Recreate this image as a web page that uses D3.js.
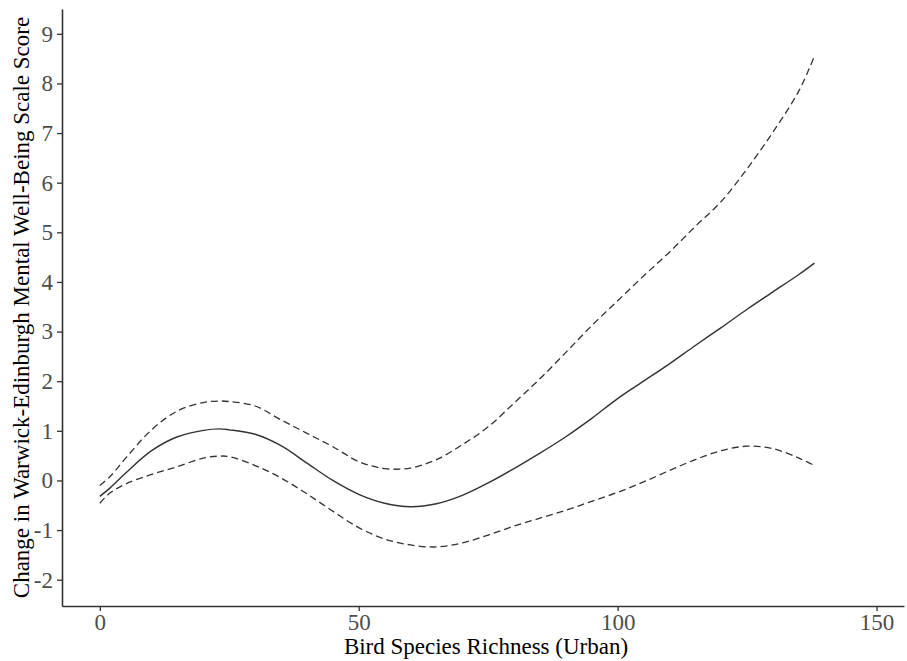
<!DOCTYPE html>
<html>
<head>
<meta charset="utf-8">
<script src="https://cdn.jsdelivr.net/npm/d3@7"></script>
<style>
  html, body { margin: 0; padding: 0; background: #fff; }
  svg { display: block; }
</style>
</head>
<body>
<svg id="chart" width="907" height="661"></svg>
<script>
// Bird species richness (x) and the fitted smooth with its confidence band
const richness = [0, 2, 5, 10, 15, 20, 23, 25, 30, 35, 40, 45, 50, 55, 60, 65, 70, 75, 80, 85, 90, 95, 100, 105, 110, 115, 120, 125, 130, 135, 138];
const fitted = [-0.32, -0.15, 0.15, 0.60, 0.88, 1.01, 1.04, 1.02, 0.93, 0.70, 0.35, 0.00, -0.28, -0.46, -0.53, -0.47, -0.30, -0.05, 0.24, 0.55, 0.88, 1.25, 1.65, 2.00, 2.35, 2.72, 3.08, 3.45, 3.80, 4.15, 4.38];
const upper = [-0.10, 0.08, 0.45, 1.02, 1.40, 1.57, 1.60, 1.59, 1.50, 1.22, 0.95, 0.68, 0.38, 0.24, 0.25, 0.42, 0.72, 1.08, 1.56, 2.05, 2.58, 3.12, 3.62, 4.12, 4.60, 5.12, 5.62, 6.28, 7.02, 7.85, 8.55];
const lower = [-0.46, -0.25, -0.07, 0.12, 0.28, 0.45, 0.49, 0.48, 0.30, 0.05, -0.27, -0.62, -0.95, -1.18, -1.30, -1.34, -1.26, -1.10, -0.92, -0.76, -0.60, -0.42, -0.24, -0.03, 0.20, 0.42, 0.60, 0.69, 0.64, 0.45, 0.30];

const xTicks = [0, 50, 100, 150];
const yTicks = [-2, -1, 0, 1, 2, 3, 4, 5, 6, 7, 8, 9];

const xTitle = "Bird Species Richness (Urban)";
const yTitle = "Change in Warwick-Edinburgh Mental Well-Being Scale Score";

const svg = d3.select("#chart");
const font = "'Liberation Serif', 'Times New Roman', serif";

const plotLeft = 62, plotRight = 904, plotTop = 9, plotBottom = 606;

const x = d3.scaleLinear().domain([-7.3, 155.3]).range([plotLeft, plotRight]);
const y = d3.scaleLinear().domain([-2.53, 9.5]).range([plotBottom, plotTop]);

// plain hyphen for negative labels
const fmt = d => String(d);

// axes
const xAxis = svg.append("g")
  .attr("transform", `translate(0,${plotBottom})`)
  .call(d3.axisBottom(x).tickValues(xTicks).tickFormat(fmt).tickSize(5).tickPadding(3).tickSizeOuter(0));
const yAxis = svg.append("g")
  .attr("transform", `translate(${plotLeft},0)`)
  .call(d3.axisLeft(y).tickValues(yTicks).tickFormat(fmt).tickSize(5).tickPadding(4).tickSizeOuter(0));

[xAxis, yAxis].forEach(g => {
  g.select(".domain").attr("stroke", "#333").attr("stroke-width", 1.6);
  g.selectAll(".tick line").attr("stroke", "#333").attr("stroke-width", 1.3);
  g.selectAll(".tick text")
    .attr("fill", "#4d4d4d")
    .style("font-family", font)
    .style("font-size", "23px");
});
xAxis.selectAll(".tick text").attr("dy", "0.71em");

// smooth and confidence limits
const line = vals => d3.line()
  .x((d, i) => x(richness[i]))
  .y(d => y(d))
  .curve(d3.curveCatmullRom.alpha(0.5))(vals);

const plot = svg.append("g");
plot.append("path").attr("d", line(upper))
  .attr("fill", "none").attr("stroke", "#333").attr("stroke-width", 1.3)
  .attr("stroke-dasharray", "7,4");
plot.append("path").attr("d", line(lower))
  .attr("fill", "none").attr("stroke", "#333").attr("stroke-width", 1.3)
  .attr("stroke-dasharray", "7,4");
plot.append("path").attr("d", line(fitted))
  .attr("fill", "none").attr("stroke", "#333").attr("stroke-width", 1.4);

// axis titles
svg.append("text")
  .attr("x", (plotLeft + plotRight) / 2 + 3)
  .attr("y", 654)
  .attr("text-anchor", "middle")
  .style("font-family", font)
  .style("font-size", "23px")
  .attr("fill", "#000")
  .text(xTitle);

svg.append("text")
  .attr("transform", `translate(29,${(plotTop + plotBottom) / 2}) rotate(-90)`)
  .attr("text-anchor", "middle")
  .style("font-family", font)
  .style("font-size", "23px")
  .attr("fill", "#000")
  .text(yTitle);
</script>
</body>
</html>
